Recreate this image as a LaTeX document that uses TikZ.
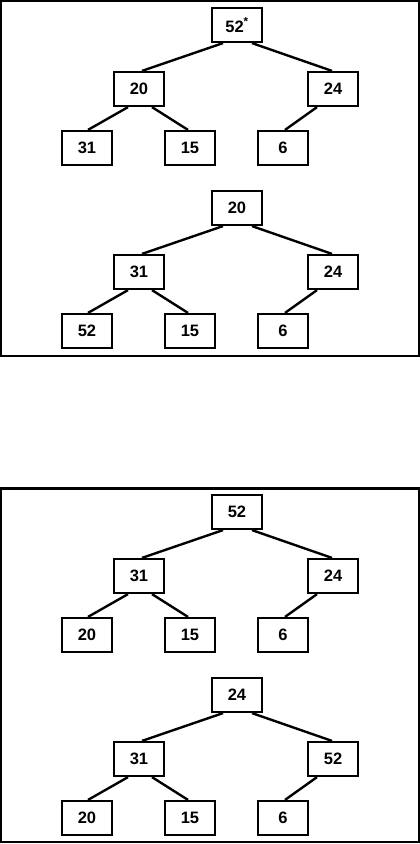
\documentclass[tikz,border=0pt]{standalone}
\usepackage{fontspec}
\setmainfont{Liberation Sans}
\usetikzlibrary{calc}
\tikzset{
  nbox/.style={draw, line width=2.2pt, minimum width=50pt, minimum height=34pt, inner sep=0pt, font=\bfseries\fontsize{16.5}{18}\selectfont},
  edge/.style={line width=2.4pt},
  frame/.style={line width=2.4pt}
}
\begin{document}
\begin{tikzpicture}[x=1pt,y=-1pt]
\useasboundingbox (0,0) rectangle (420,844);
\draw[frame] (1.2,1.2) rectangle (418.8,356);
\draw[frame] (1.2,488.5) rectangle (418.8,842);
% tree 1
\node[nbox] (a1) at (237,25) {52\textsuperscript{*}};
\node[nbox] (a2) at (139,89) {20};
\node[nbox] (a3) at (333,89) {24};
\node[nbox] (a4) at (87,148) {31};
\node[nbox] (a5) at (190,148) {15};
\node[nbox] (a6) at (283,148) {6};
% tree 2
\node[nbox] (b1) at (237,208) {20};
\node[nbox] (b2) at (139,272) {31};
\node[nbox] (b3) at (333,272) {24};
\node[nbox] (b4) at (87,331) {52};
\node[nbox] (b5) at (190,331) {15};
\node[nbox] (b6) at (283,331) {6};
% tree 3
\node[nbox] (c1) at (237,512) {52};
\node[nbox] (c2) at (139,576) {31};
\node[nbox] (c3) at (333,576) {24};
\node[nbox] (c4) at (87,635) {20};
\node[nbox] (c5) at (190,635) {15};
\node[nbox] (c6) at (283,635) {6};
% tree 4
\node[nbox] (d1) at (237,695) {24};
\node[nbox] (d2) at (139,759) {31};
\node[nbox] (d3) at (333,759) {52};
\node[nbox] (d4) at (87,818) {20};
\node[nbox] (d5) at (190,818) {15};
\node[nbox] (d6) at (283,818) {6};
\foreach \t in {a,b,c,d}{
  \draw[edge] ([xshift=-14pt]\t1.south) -- ([xshift=3pt]\t2.north);
  \draw[edge] ([xshift=15pt]\t1.south) -- ([xshift=-1pt]\t3.north);
  \draw[edge] ([xshift=-11pt]\t2.south) -- ([xshift=1pt]\t4.north);
  \draw[edge] ([xshift=13pt]\t2.south) -- ([xshift=-2pt]\t5.north);
  \draw[edge] ([xshift=-16pt]\t3.south) -- ([xshift=2pt]\t6.north);
}
\end{tikzpicture}
\end{document}
